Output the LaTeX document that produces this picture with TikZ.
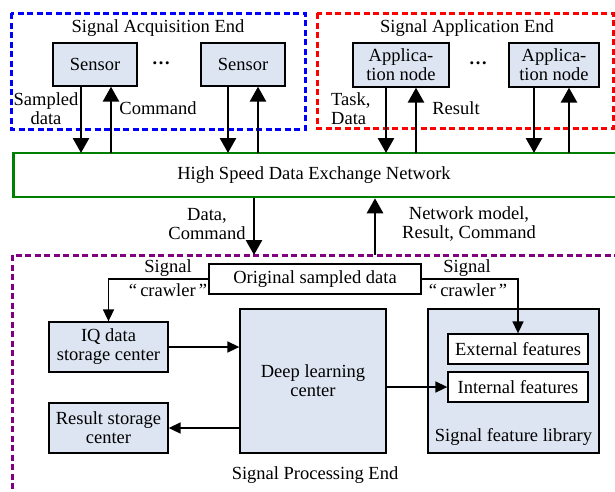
\documentclass[tikz,border=0pt]{standalone}
\usepackage{fontspec}
\setmainfont{Liberation Serif}
\usetikzlibrary{arrows.meta}
\definecolor{boxfill}{RGB}{221,229,242}
\definecolor{acqblue}{RGB}{0,0,255}
\definecolor{appred}{RGB}{255,0,0}
\definecolor{netgreen}{RGB}{0,128,0}
\definecolor{procpurple}{RGB}{128,0,128}
\tikzset{
  every node/.style={font=\fontsize{18.5}{19}\selectfont, inner sep=0pt, align=center},
  bluebox/.style={draw, line width=1.3pt, fill=boxfill, align=center},
  whitebox/.style={draw, line width=1.3pt, fill=white, align=center},
  grpframe/.style={line width=3pt, dash pattern=on 6pt off 3.5pt},
  bigarrow/.style={line width=2.7pt, -{Triangle[length=15pt,width=16pt]}},
  smallarrow/.style={line width=1.6pt, -{Triangle[length=12pt,width=11pt]}},
  lbl/.style={align=center, inner sep=0pt},
  dotsnode/.style={font=\fontsize{18.5}{19}\selectfont\bfseries},
}
\begin{document}
\begin{tikzpicture}[x=1pt,y=-1pt]
\useasboundingbox (0,0) rectangle (615,491);
\clip (0,0) rectangle (615,491);
% group frames
\draw[grpframe, acqblue] (11,13) rectangle (305,129);
\draw[grpframe, appred] (317,13) rectangle (613,128);
\draw[grpframe, procpurple] (12,255) rectangle (640,520);
% titles
\node (tacq) at (158,28) {Signal Acquisition End};
\node (tapp) at (467,28) {Signal Application End};
\node (tproc) at (315,475) {Signal Processing End};
% top nodes
\node[bluebox, minimum width=84pt, minimum height=43pt] (s1) at (95,64.5) {Sensor};
\node[bluebox, minimum width=84pt, minimum height=43pt] (s2) at (243,64.5) {Sensor};
\node[dotsnode] (d1) at (161,63) {…};
\node[bluebox, minimum width=96pt, minimum height=44pt] (a1) at (401,65) {Applica-\\tion node};
\node[bluebox, minimum width=90pt, minimum height=44pt] (a2) at (554,65) {Applica-\\tion node};
\node[dotsnode] (d2) at (478,63) {…};
% network
\node[draw=netgreen, line width=2.5pt, fill=white, minimum width=620pt, minimum height=44pt, anchor=west] (net) at (12,175) {};
\node (nettext) at (314,175) {High Speed Data Exchange Network};
% top arrows
\coordinate (n1) at (81,153);
\coordinate (n2) at (111,153);
\coordinate (n3) at (228,153);
\coordinate (n4) at (258,153);
\coordinate (n5) at (386,153);
\coordinate (n6) at (416,153);
\coordinate (n7) at (534,153);
\coordinate (n8) at (569,153);
\draw[bigarrow] (s1.south -| n1) -- (n1);
\draw[bigarrow] (n2) -- (s1.south -| n2);
\draw[bigarrow] (s2.south -| n3) -- (n3);
\draw[bigarrow] (n4) -- (s2.south -| n4);
\draw[bigarrow] (a1.south -| n5) -- (n5);
\draw[bigarrow] (n6) -- (a1.south -| n6);
\draw[bigarrow] (a2.south -| n7) -- (n7);
\draw[bigarrow] (n8) -- (a2.south -| n8);
\node[lbl] (lsamp) at (46,109) {Sampled\\data};
\node[lbl] (lcmd) at (158,108) {Command};
\node[lbl, align=left, anchor=west] (ltask) at (331,109) {Task,\\Data};
\node[lbl] (lres) at (456,108) {Result};
% network to processing
\coordinate (p1) at (254,255);
\coordinate (p2) at (375,255);
\draw[bigarrow] (net.south -| p1) -- (p1);
\draw[bigarrow] (p2) -- (net.south -| p2);
\node[lbl] (ldc) at (207,224) {Data,\\Command};
\node[lbl] (lnm) at (469,224) {Network model,\\Result, Command};
% processing end
\node[whitebox, minimum width=212pt, minimum height=30pt] (orig) at (315,279) {Original sampled data};
\node[bluebox, minimum width=119pt, minimum height=50pt] (iq) at (108.5,347) {IQ data\\storage center};
\node[bluebox, minimum width=119pt, minimum height=50pt] (res) at (108.5,428) {Result storage\\center};
\node[bluebox, minimum width=146pt, minimum height=144pt] (deep) at (313,381) {Deep learning\\center};
\node[bluebox, minimum width=171pt, minimum height=144pt] (lib) at (513.5,381) {};
\node (libtext) at (513.5,437) {Signal feature library};
\node[whitebox, minimum width=140pt, minimum height=30pt] (ext) at (518,349) {External features};
\node[whitebox, minimum width=140pt, minimum height=30pt] (int) at (518,387) {Internal features};
% processing arrows
\draw[smallarrow] (orig.west) -| (iq.north);
\draw[smallarrow] (orig.east) -| (ext.north);
\node[lbl] (lsig1) at (168,268) {Signal};
\node[lbl] (lcr1) at (168,290) {“\,crawler\,”};
\node[lbl] (lsig2) at (467,268) {Signal};
\node[lbl] (lcr2) at (468,290) {“\,crawler\,”};
\draw[smallarrow] (iq.east) -- (iq.east -| deep.west);
\draw[smallarrow] (deep.west |- res.east) -- (res.east);
\draw[smallarrow] (deep.east |- int.west) -- (int.west);
\end{tikzpicture}
\end{document}
